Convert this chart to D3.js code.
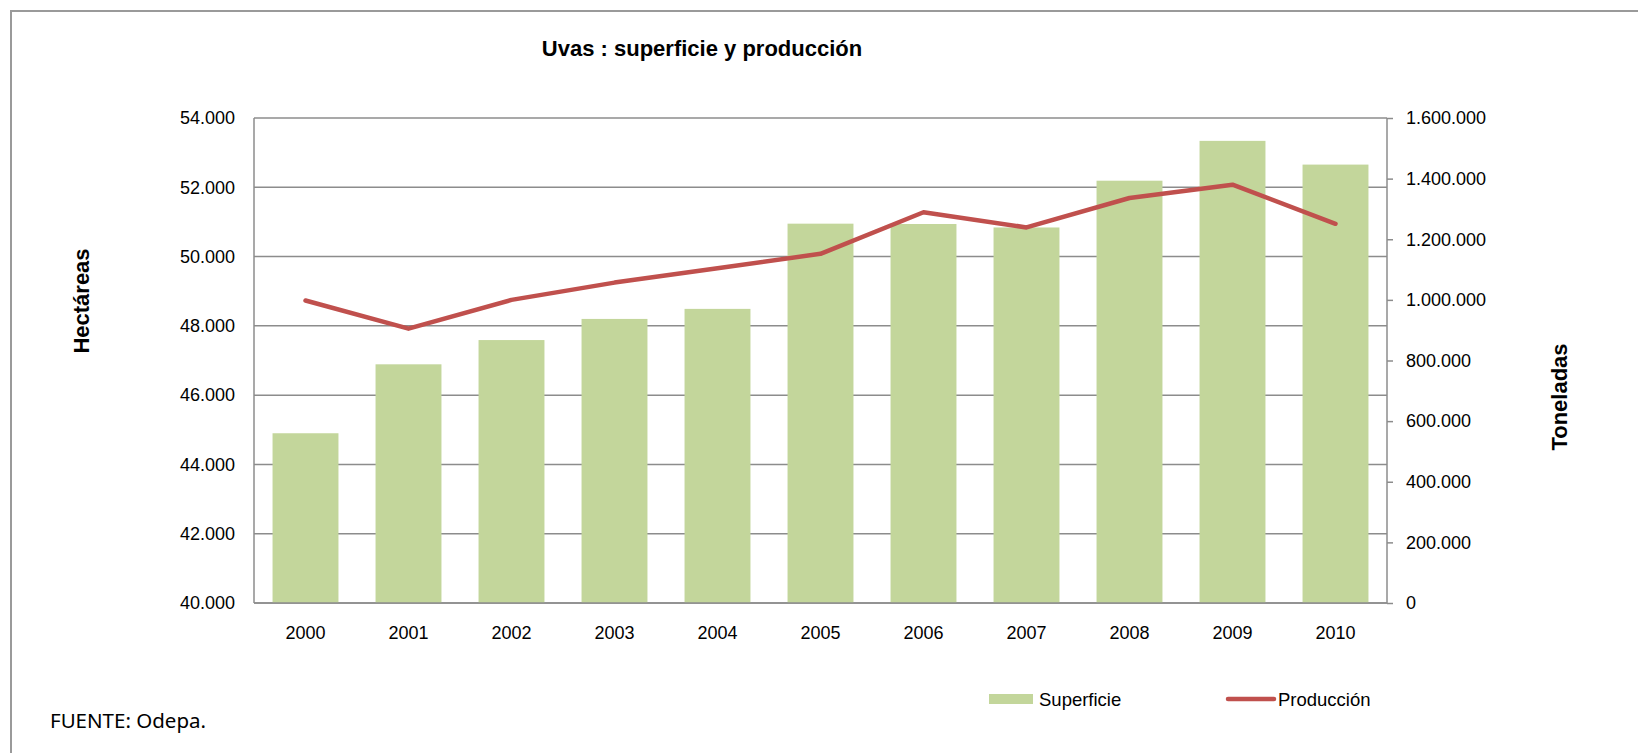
<!DOCTYPE html>
<html>
<head>
<meta charset="utf-8">
<script src="https://cdn.jsdelivr.net/npm/d3@7"></script>
<style>
  body { margin: 0; background: #fff; }
  text { font-family: "Liberation Sans", Arial, sans-serif; }
</style>
</head>
<body>
<div id="chart"></div>
<script>
// Data
const years = ["2000", "2001", "2002", "2003", "2004", "2005", "2006", "2007", "2008", "2009", "2010"];
const superficie = [44900, 46890, 47590, 48200, 48490, 50950, 50940, 50840, 52190, 53340, 52655];
const produccion = [998000, 905000, 1000000, 1057000, 1104000, 1152000, 1289000, 1239000, 1336000, 1380000, 1251000];
const leftTicks = [40000, 42000, 44000, 46000, 48000, 50000, 52000, 54000];
const rightTicks = [0, 200000, 400000, 600000, 800000, 1000000, 1200000, 1400000, 1600000];

const width = 1638;
const height = 753;
const plot = { left: 254, right: 1387, top: 118, bottom: 603 };
const barColor = "#c3d69b";
const lineColor = "#c0504d";
const gridColor = "#8c8c8c";

const locale = d3.formatLocale({ decimal: ",", thousands: ".", grouping: [3], currency: ["", ""] });
const fmt = locale.format(",d");

const svg = d3.select("#chart").append("svg")
    .attr("width", width)
    .attr("height", height);

// outer frame (only top and left edges visible)
svg.append("rect")
    .attr("x", 11).attr("y", 11)
    .attr("width", width + 10).attr("height", height + 10)
    .attr("fill", "none")
    .attr("stroke", "#9a9a9a")
    .attr("stroke-width", 2);

const x = d3.scaleBand()
    .domain(years)
    .range([plot.left, plot.right])
    .paddingInner(0.36)
    .paddingOuter(0.18);

const yL = d3.scaleLinear().domain([40000, 54000]).range([plot.bottom, plot.top]);
const yR = d3.scaleLinear().domain([0, 1600000]).range([plot.bottom, plot.top]);

// gridlines from the left axis
svg.append("g")
    .selectAll("line")
    .data(leftTicks)
    .join("line")
    .attr("x1", plot.left).attr("x2", plot.right)
    .attr("y1", d => yL(d)).attr("y2", d => yL(d))
    .attr("stroke", gridColor)
    .attr("stroke-width", 1.5);

// bars
svg.append("g")
    .selectAll("rect")
    .data(years)
    .join("rect")
    .attr("x", d => x(d))
    .attr("y", (d, i) => yL(superficie[i]))
    .attr("width", x.bandwidth())
    .attr("height", (d, i) => yL(40000) - yL(superficie[i]))
    .attr("fill", barColor);

// line
const line = d3.line()
    .x((d, i) => x(years[i]) + x.bandwidth() / 2)
    .y(d => yR(d));
svg.append("path")
    .datum(produccion)
    .attr("d", line)
    .attr("fill", "none")
    .attr("stroke", lineColor)
    .attr("stroke-width", 4.5)
    .attr("stroke-linejoin", "round")
    .attr("stroke-linecap", "round");

// axes
const leftAxis = svg.append("g")
    .attr("transform", `translate(${plot.left},0)`)
    .call(d3.axisLeft(yL).tickValues(leftTicks).tickFormat(fmt).tickSize(0).tickPadding(19));
const rightAxis = svg.append("g")
    .attr("transform", `translate(${plot.right},0)`)
    .call(d3.axisRight(yR).tickValues(rightTicks).tickFormat(fmt).tickSize(6).tickPadding(13));
const bottomAxis = svg.append("g")
    .attr("transform", `translate(0,${plot.bottom})`)
    .call(d3.axisBottom(x).tickSize(0).tickPadding(23));

[leftAxis, rightAxis, bottomAxis].forEach(a => {
    a.selectAll("path.domain").attr("stroke", gridColor).attr("stroke-width", 1.5);
    a.selectAll(".tick line").attr("stroke", gridColor).attr("stroke-width", 1.5);
    a.selectAll("text").attr("font-size", 18).attr("fill", "#000")
        .style("font-family", "'Liberation Sans', Arial, sans-serif");
});
leftAxis.select("path.domain").attr("d", `M0,${plot.top}V${plot.bottom}`);
rightAxis.select("path.domain").attr("d", `M0,${plot.top}V${plot.bottom}`);
bottomAxis.select("path.domain").attr("d", `M${plot.left},0H${plot.right}`);

// title
svg.append("text")
    .attr("x", 702).attr("y", 56)
    .attr("text-anchor", "middle")
    .attr("font-size", 22).attr("font-weight", "bold")
    .text("Uvas : superficie y producción");

// axis titles
svg.append("text")
    .attr("transform", "translate(89,301) rotate(-90)")
    .attr("text-anchor", "middle")
    .attr("font-size", 22).attr("font-weight", "bold")
    .text("Hectáreas");
svg.append("text")
    .attr("transform", "translate(1567,397) rotate(-90)")
    .attr("text-anchor", "middle")
    .attr("font-size", 22).attr("font-weight", "bold")
    .text("Toneladas");

// legend
const legend = svg.append("g");
legend.append("rect")
    .attr("x", 989).attr("y", 694).attr("width", 44).attr("height", 10)
    .attr("fill", barColor);
legend.append("text")
    .attr("x", 1039).attr("y", 706)
    .attr("font-size", 18.5)
    .text("Superficie");
legend.append("line")
    .attr("x1", 1228).attr("x2", 1274).attr("y1", 699).attr("y2", 699)
    .attr("stroke", lineColor).attr("stroke-width", 4.5)
    .attr("stroke-linecap", "round");
legend.append("text")
    .attr("x", 1278).attr("y", 706)
    .attr("font-size", 18.5)
    .text("Producción");

// source
svg.append("text")
    .attr("x", 50).attr("y", 728)
    .attr("font-size", 20.5)
    .style("font-family", "'Noto Sans', 'Liberation Sans', sans-serif")
    .text("FUENTE: Odepa.");
</script>
</body>
</html>
